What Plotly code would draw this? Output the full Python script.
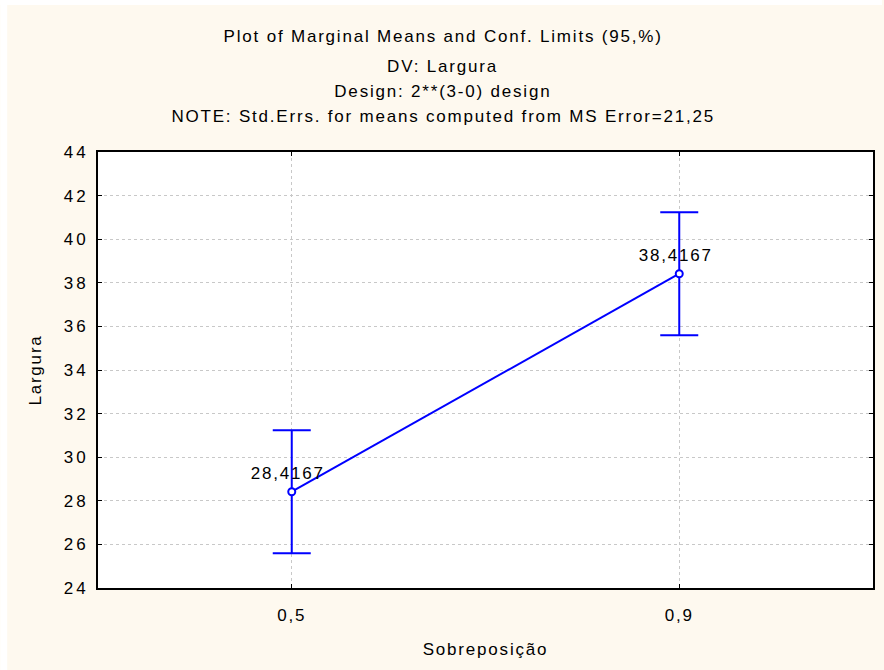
import plotly.graph_objects as go

categories = ["0,5", "0,9"]
means = [28.4167, 38.4167]
ci_half = [2.82, 2.82]
mean_labels = ["28,4167", "38,4167"]
y_ticks = [24, 26, 28, 30, 32, 34, 36, 38, 40, 42, 44]

title_lines = [
    ("Plot of Marginal Means and Conf. Limits (95,%)", 37),
    ("DV: Largura", 67),
    ("Design: 2**(3-0) design", 91),
    ("NOTE: Std.Errs. for means computed from MS Error=21,25", 116),
]

FONT = "Liberation Sans, Arial, sans-serif"
FS = 17
BLUE = "#0000FF"
W, H = 884, 670
L, R, T, B = 98, 875, 152, 588

fig = go.Figure()
fig.add_trace(go.Scatter(
    x=categories, y=means, mode="lines+markers",
    line=dict(color=BLUE, width=2),
    marker=dict(symbol="circle", size=7, color="white", line=dict(color=BLUE, width=2)),
    error_y=dict(type="data", array=ci_half, visible=True, color=BLUE, thickness=2, width=19),
    showlegend=False, hoverinfo="skip",
))


def px_x(p):
    return (p - L) / (R - L)


def px_y(p):
    return (B - p) / (B - T)


annotations = []
for txt, py in title_lines:
    annotations.append(dict(
        text=txt, xref="paper", yref="paper",
        x=px_x(444), y=px_y(py),
        xanchor="center", yanchor="middle", showarrow=False,
        font=dict(family=FONT, size=FS, color="black"),
    ))
for cat, m, lab in zip(categories, means, mean_labels):
    annotations.append(dict(
        text=lab, x=cat, y=m, xref="x", yref="y",
        xanchor="center", yanchor="middle", showarrow=False,
        xshift=-4, yshift=18,
        font=dict(family=FONT, size=FS, color="black"),
    ))

shapes = [
    dict(type="rect", xref="paper", yref="paper", x0=px_x(0), x1=px_x(W), y0=px_y(0), y1=px_y(5),
         fillcolor="white", line=dict(width=0), layer="below"),
    dict(type="rect", xref="paper", yref="paper", x0=px_x(0), x1=px_x(7), y0=px_y(0), y1=px_y(H),
         fillcolor="white", line=dict(width=0), layer="below"),
]

fig.update_layout(
    width=W, height=H,
    margin=dict(l=L, r=W - R, t=T, b=H - B, pad=0),
    paper_bgcolor="#FEF9EF", plot_bgcolor="white",
    separators=",.",
    font=dict(family=FONT, size=FS, color="black"),
    annotations=annotations,
    shapes=shapes,
    xaxis=dict(
        type="category", range=[-0.5, 1.5],
        showline=True, mirror="ticks", linecolor="black", linewidth=2,
        ticks="inside", ticklen=4, tickcolor="black", tickwidth=1,
        showgrid=True, gridcolor="#C8C8C8", griddash="dot", gridwidth=1,
        title=dict(text="Sobreposição", font=dict(family=FONT, size=FS), standoff=19),
        tickfont=dict(family=FONT, size=FS),
        ticklabelstandoff=11,
        zeroline=False,
    ),
    yaxis=dict(
        range=[24, 44], tickvals=y_ticks,
        showline=True, mirror="ticks", linecolor="black", linewidth=2,
        ticks="inside", ticklen=4, tickcolor="black", tickwidth=1,
        showgrid=True, gridcolor="#C8C8C8", griddash="dot", gridwidth=1,
        title=dict(text="Largura", font=dict(family=FONT, size=FS), standoff=24),
        tickfont=dict(family=FONT, size=FS),
        ticklabelstandoff=4,
        zeroline=False,
    ),
)

post_js = """
document.body.style.margin = '0';
var gd = document.getElementById('{plot_id}');
function spacing() {
  gd.querySelectorAll('text').forEach(function (t) { t.style.letterSpacing = '1.8px'; });
  gd.querySelectorAll('.ytick text').forEach(function (t) { t.style.letterSpacing = '3px'; });
}
spacing();
setTimeout(spacing, 50);
setTimeout(spacing, 400);
if (gd.on) { gd.on('plotly_afterplot', spacing); }
"""

fig.write_html("out.html", post_script=post_js, config={"displayModeBar": False})
